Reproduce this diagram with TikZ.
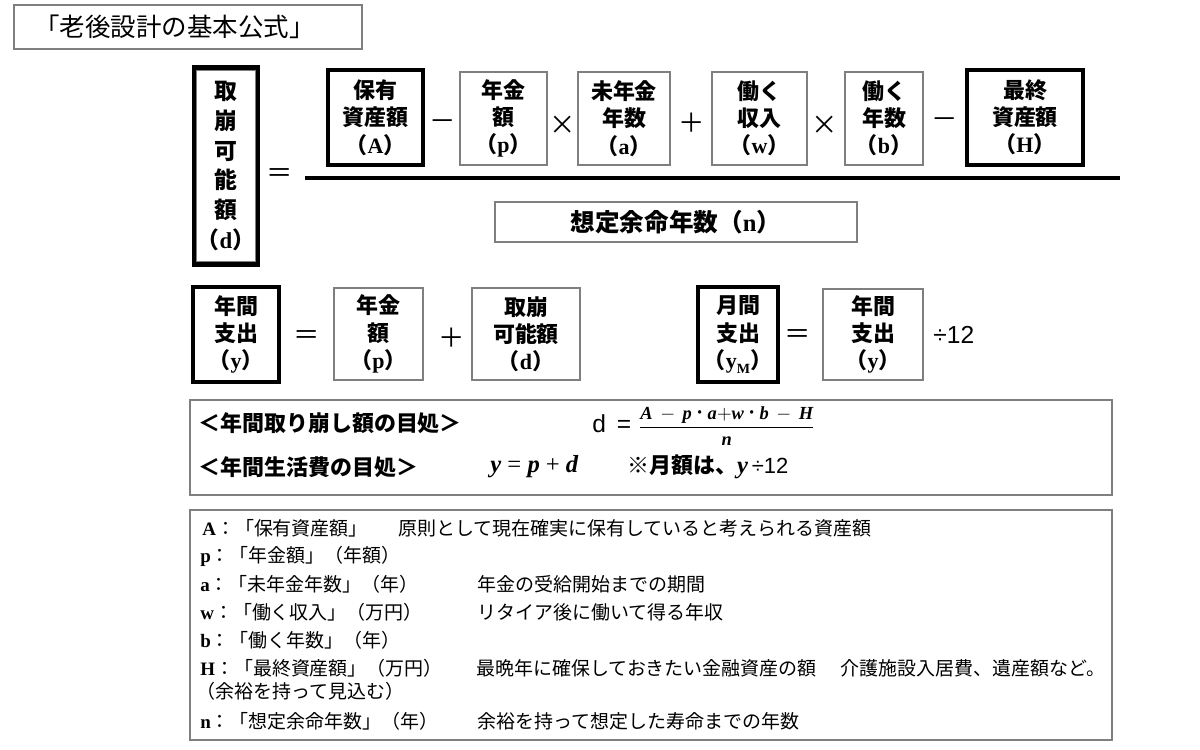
\documentclass[tikz,border=0pt]{standalone}
\usepackage{amsmath}
\usepackage{fontspec}
\setmainfont{Noto Sans CJK JP}
\newfontfamily\tms{Liberation Serif}
\newfontfamily\arial{Liberation Sans}
\usetikzlibrary{calc}
\definecolor{kutuGri}{HTML}{7F7F7F}
\newcommand{\lt}[1]{{\tms\bfseries #1}}
\newcommand{\bi}[1]{\text{\tms\bfseries\itshape #1}}
\tikzset{
  wh/.style 2 args={minimum width=#1*0.02cm, minimum height=#2*0.02cm},
  kutu/.style={draw=kutuGri, line width=0.9pt, inner sep=0pt, align=center, font=\fontsize{12.5}{15.5}\selectfont\bfseries},
  kalinKutu/.style={kutu, draw=black, line width=2.6pt},
  islem/.style={inner sep=0pt, font=\fontsize{15}{15}\selectfont},
  satir/.style={anchor=west, inner sep=0pt, font=\fontsize{10.8}{12}\selectfont},
  olcuYazi/.style={anchor=west, inner sep=0pt, font=\fontsize{12.5}{14}\selectfont\bfseries}
}

\begin{document}
\begin{tikzpicture}[x=0.02cm, y=-0.02cm]
\useasboundingbox (0,0) rectangle (1200,750);
\node[draw=kutuGri, line width=0.9pt, wh={348}{44}] (baslik) at (188,27) {};
\node[anchor=west, inner sep=0pt, font=\fontsize{14.5}{15}\selectfont] (baslikYazi) at (34,27) {「老後設計の基本公式」};

\node[kalinKutu, wh={64}{197}, font=\fontsize{13}{17}\selectfont\bfseries] (kd) at (226,166) {取\\崩\\可\\能\\額\\（\lt{d}）};
\draw[kutuGri, line width=0.8pt] ($(kd.north west)+(5,5)$) rectangle ($(kd.south east)+(-5,-5)$);
\node[islem] (esit1) at (280,176) {＝};
\coordinate (kesirSol) at (305,178);
\coordinate (kesirSag) at (1120,178);
\draw[line width=2.2pt] (kesirSol) -- (kesirSag);

\node[kalinKutu, wh={95}{95}] (A) at (375.5,117.5) {保有\\資産額\\（\lt{A}）};
\node[islem] (eksi1) at (443,125) {－};
\node[kutu, wh={87}{93}] (p) at (503.5,118.5) {年金\\額\\（\lt{p}）};
\node[islem] (carp1) at (563,125) {×};
\node[kutu, wh={92}{93}] (a) at (624,118.5) {未年金\\年数\\（\lt{a}）};
\node[islem] (arti1) at (692,123) {＋};
\node[kutu, wh={95}{93}] (w) at (759.5,118.5) {働く\\収入\\（\lt{w}）};
\node[islem] (carp2) at (825,125) {×};
\node[kutu, wh={78}{93}] (b) at (884,118.5) {働く\\年数\\（\lt{b}）};
\node[islem] (eksi2) at (945,123) {－};
\node[kalinKutu, wh={116}{95}] (H) at (1025,117.5) {最終\\資産額\\（\lt{H}）};
\node[kutu, wh={362}{40}, font=\fontsize{14}{16}\selectfont\bfseries] (n) at (676,222) {想定余命年数（\lt{n}）};

\node[kalinKutu, wh={86}{95}] (yil) at (236,334.5) {年間\\支出\\（\lt{y}）};
\node[islem] (esit2) at (307,338) {＝};
\node[kutu, wh={89}{92}] (p2) at (378.5,334) {年金\\額\\（\lt{p}）};
\node[islem] (arti2) at (452,338) {＋};
\node[kutu, wh={108}{92}] (d2) at (526,334) {取崩\\可能額\\（\lt{d}）};
\node[kalinKutu, wh={80}{95}] (ay) at (738,334.5) {月間\\支出\\（\lt{y}\raisebox{-0.4ex}{\lt{\footnotesize M}}）};
\node[islem] (esit3) at (798,337) {＝};
\node[kutu, wh={100}{91}] (yil2) at (873,334.5) {年間\\支出\\（\lt{y}）};
\node[anchor=west, inner sep=0pt, font=\arial\fontsize{14}{14}\selectfont] (bolu) at (933,335) {÷12};

\node[draw=kutuGri, line width=1pt, wh={922}{95}] (olcu) at (651,447.5) {};
\node[olcuYazi] (olcu1) at (198,423) {＜年間取り崩し額の目処＞};
\node[anchor=west, inner sep=0pt, font=\arial\fontsize{14}{14}\selectfont] (olcuD) at (592,424) {d \,=};
\node[anchor=west, inner sep=0pt, font=\fontsize{10.5}{12}\selectfont] (olcuKesir) at (638,426) {$\displaystyle\frac{\bi{A}\,-\,\bi{p}\,˙\,\bi{a}{+}\bi{w}\,˙\,\bi{b}\,-\,\bi{H}}{\bi{n}}$};
\node[olcuYazi] (olcu2) at (198,467) {＜年間生活費の目処＞};
\node[anchor=west, inner sep=0pt, font=\tms\fontsize{14}{14}\selectfont] (olcuY) at (490,467) {\textbf{\textit{y}} = \textbf{\textit{p}} + \textbf{\textit{d}}};
\node[olcuYazi] (aylik) at (627,467) {※月額は、{\tms\fontsize{14}{14}\selectfont\textit{y}}{\arial\mdseries\,÷12}};

\node[draw=kutuGri, line width=1pt, wh={922}{230}] (aciklama) at (651,625) {};
\node[satir] (sA) at (202,528) {\lt{A}：「保有資産額」};
\node[satir] (tA) at (398,528) {原則として現在確実に保有していると考えられる資産額};
\node[satir] (sp) at (200,556) {\lt{p}：「年金額」（年額）};
\node[satir] (sa) at (200,584) {\lt{a}：「未年金年数」（年）};
\node[satir] (ta) at (477,584) {年金の受給開始までの期間};
\node[satir] (sw) at (200,612) {\lt{w}：「働く収入」（万円）};
\node[satir] (tw) at (477,612) {リタイア後に働いて得る年収};
\node[satir] (sb) at (200,640) {\lt{b}：「働く年数」（年）};
\node[satir] (sH) at (200,668) {\lt{H}：「最終資産額」（万円）};
\node[satir] (tH) at (476,668) {最晩年に確保しておきたい金融資産の額};
\node[satir] (tH2) at (840,668) {介護施設入居費、遺産額など。};
\node[satir] (yH) at (196,691) {（余裕を持って見込む）};
\node[satir] (sn) at (200,721) {\lt{n}：「想定余命年数」（年）};
\node[satir] (tn) at (477,721) {余裕を持って想定した寿命までの年数};
\end{tikzpicture}
\end{document}
